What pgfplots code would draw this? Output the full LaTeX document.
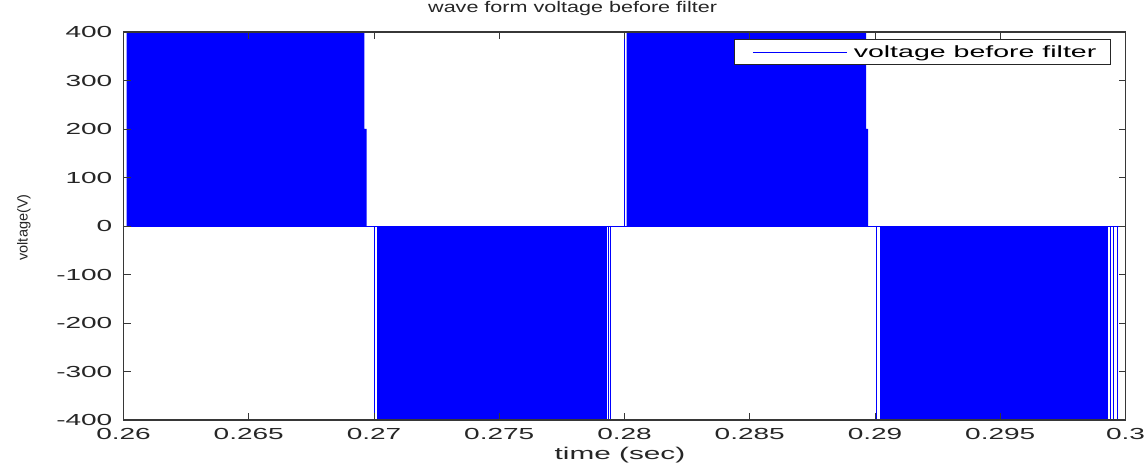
\documentclass[border=0pt]{standalone}
\usepackage{pgfplots}
\pgfplotsset{compat=1.18}
\usepackage{fontspec}
\setmainfont{Liberation Sans}
\newfontfamily\stretchfont[FakeStretch=1.75]{Liberation Sans}
\newfontfamily\titlefont[FakeStretch=1.4]{Liberation Sans}
\definecolor{mblue}{RGB}{0,0,255}
\definecolor{axgray}{RGB}{55,55,55}
\begin{document}
\begin{tikzpicture}
\begin{axis}[
  scale only axis, width=1002pt, height=388pt,
  xmin=0.26, xmax=0.3, ymin=-400, ymax=400,
  axis on top,
  scaled x ticks=false, scaled y ticks=false,
  xtick={0.26,0.265,0.27,0.275,0.28,0.285,0.29,0.295,0.3},
  xticklabels={0.26,0.265,0.27,0.275,0.28,0.285,0.29,0.295,0.3},
  ytick={-400,-300,-200,-100,0,100,200,300,400},
  yticklabels={-400,-300,-200,-100,0,100,200,300,400},
  tick align=inside, major tick length=7pt,
  tick style={axgray, line width=0.9pt},
  axis line style={axgray, line width=1.2pt},
  ticklabel style={font=\stretchfont\fontsize{16}{16}\selectfont, text=black!85},
  xticklabel style={anchor=north, inner sep=0pt, yshift=-8pt},
  yticklabel style={anchor=east, inner sep=0pt, xshift=-11pt},
  title={wave form voltage before filter},
  title style={at={(0.4482,1.0353)}, anchor=base, inner sep=0pt, font=\titlefont\fontsize{15.4}{15.4}\selectfont, text=black!85},
  xlabel={time (sec)},
  xlabel style={at={(axis description cs:0.4955,-0.101)}, anchor=base, inner sep=0pt, font=\stretchfont\fontsize{17}{17}\selectfont, text=black!85},
  legend style={at={(0.9855,0.982)}, anchor=north east, draw=black!85, line width=1.2pt, fill=white,
    inner xsep=14pt, inner ysep=0pt, column sep=0pt,
    nodes={inner sep=0pt, anchor=west},
    font=\stretchfont\fontsize{16.3}{16.3}\selectfont},
  legend cell align=left,
]
\addlegendimage{legend image code/.code={\path[draw=none, fill=none] (0pt,-12.5pt) rectangle (105pt,12.5pt); \draw[mblue, line width=0.8pt, fill=none] (4pt,0pt) -- (98pt,0pt);}}
\addlegendentry{voltage before filter}
% PWM blocks (switching too fast to resolve: solid fills)
\addplot[fill=mblue, draw=none] coordinates {(0.260128,400) (0.269613,400) (0.269613,200) (0.269701,200)} \closedcycle;
\addplot[fill=mblue, draw=none] coordinates {(0.270108,-400) (0.279289,-400)} \closedcycle;
\addplot[fill=mblue, draw=none] coordinates {(0.280088,400) (0.289641,400) (0.289641,200) (0.289721,200)} \closedcycle;
\addplot[fill=mblue, draw=none] coordinates {(0.290212,-400) (0.299301,-400)} \closedcycle;
% isolated pulses
\addplot[mblue, line width=1pt] coordinates {(0.270032,0) (0.270032,-400)};
\addplot[mblue, line width=1pt] coordinates {(0.279349,0) (0.279349,-400)};
\addplot[mblue, line width=1pt] coordinates {(0.279433,0) (0.279433,-400)};
\addplot[mblue, line width=1pt] coordinates {(0.280008,0) (0.280008,400)};
\addplot[mblue, line width=1pt] coordinates {(0.290048,0) (0.290048,-400)};
\addplot[mblue, line width=1pt] coordinates {(0.299381,0) (0.299381,-400)};
\addplot[mblue, line width=1pt] coordinates {(0.299513,0) (0.299513,-400)};
\addplot[mblue, line width=1pt] coordinates {(0.299693,0) (0.299693,-400)};
% zero level
\addplot[mblue, line width=0.8pt] coordinates {(0.26,0) (0.3,0)};
\end{axis}
% y axis label
\node[rotate=90, anchor=center, inner sep=0pt, text=black!85, font=\fontsize{14.5}{17}\selectfont]
  at ([xshift=-99.5pt,yshift=-1.5pt]current axis.west) {voltage(V)};
\pgfresetboundingbox
\path ([xshift=-123.5pt,yshift=-45pt]current axis.south west) rectangle ([xshift=22.5pt,yshift=32pt]current axis.north east);
\end{tikzpicture}
\end{document}
